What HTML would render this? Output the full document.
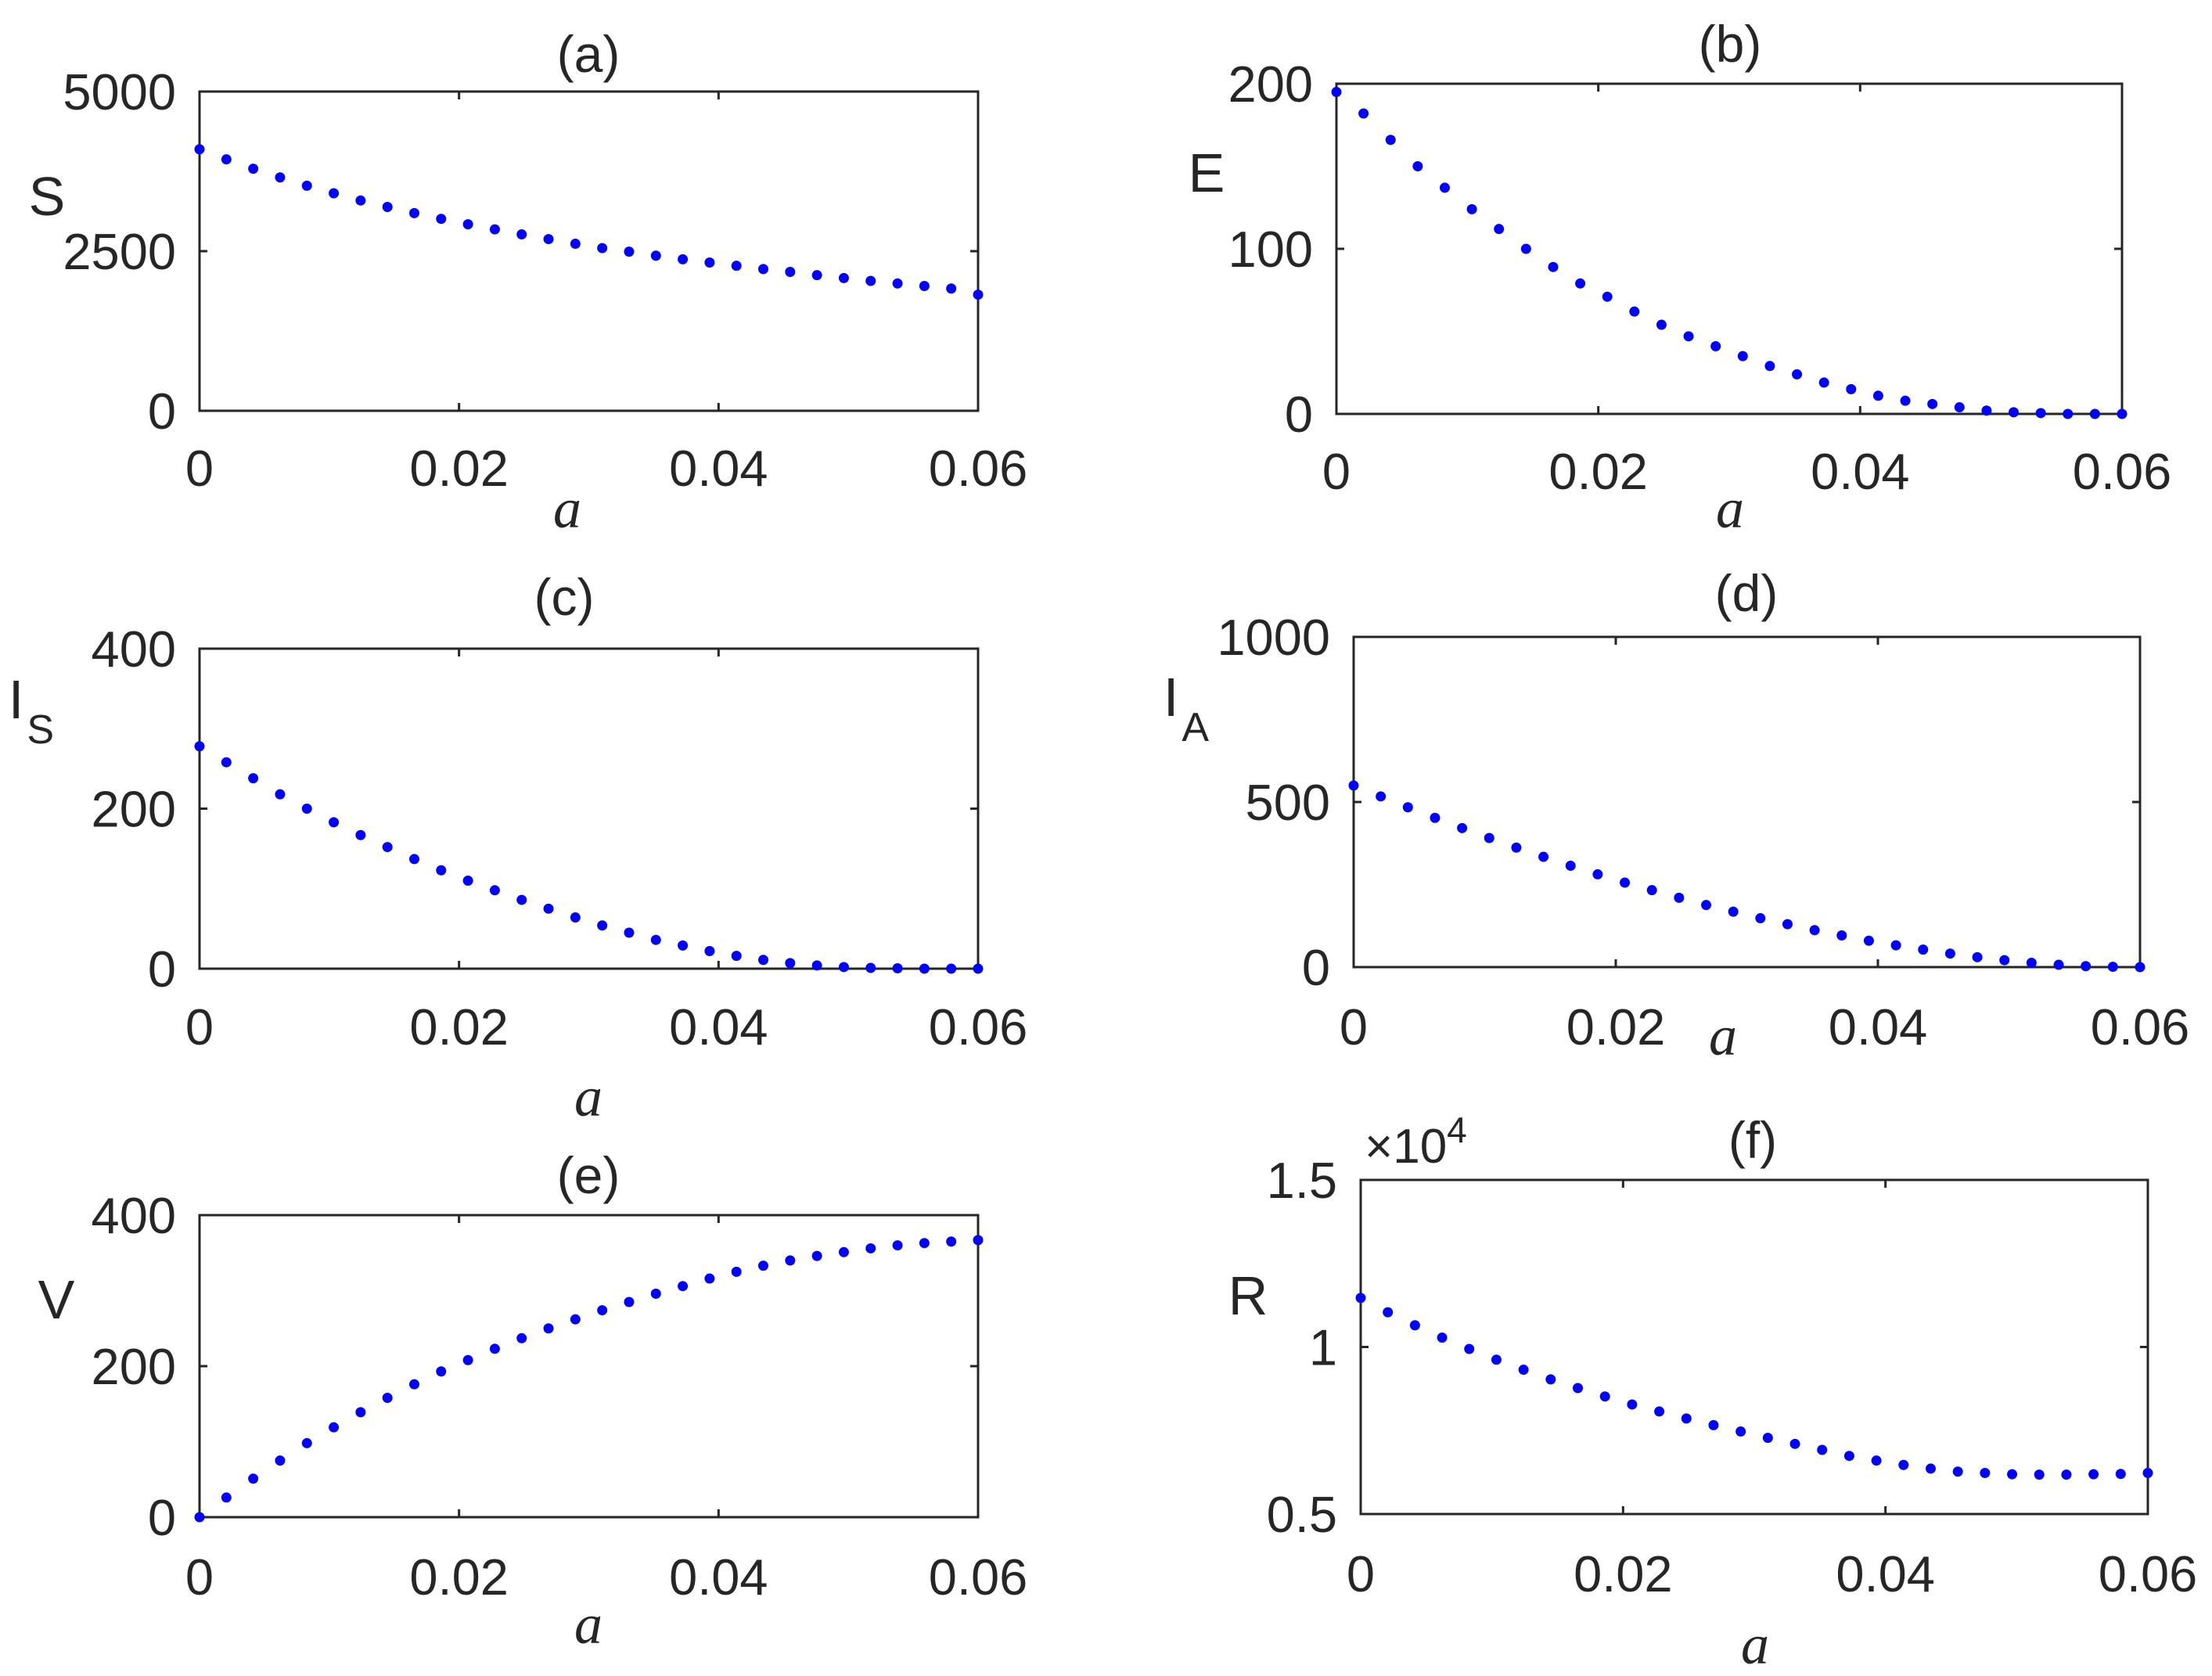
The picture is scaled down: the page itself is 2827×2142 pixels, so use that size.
<!DOCTYPE html>
<html><head><meta charset="utf-8"><style>
html,body{margin:0;padding:0;background:#fff;}
svg{display:block;}
text{font-family:"Liberation Sans",sans-serif;fill:#262626;}
.it{font-family:"Liberation Serif",serif;font-style:italic;}
</style></head><body>
<svg id="fig" width="2827" height="2142" viewBox="0 0 2827 2142" xmlns="http://www.w3.org/2000/svg"></svg>
<script>
const xTicks = [0, 0.02, 0.04, 0.06];
const xTickLabels = ['0', '0.02', '0.04', '0.06'];
const sValues = [4096,3938,3791,3655,3525,3407,3294,3192,3096,3006,2921,2842,2763,2689,2616,2548,2492,2429,2373,2322,2271,2220,2175,2124,2079,2034,1994,1955,1915,1819];
const eValues = [195,182,166,150,137,124,112,100,89,79,71,62,54,47,41,35,29,24,19,15,11,8,6,4,2,1,0.5,0,0,0];
const isValues = [278,258,238,218,200,183,167,152,137,123,110,98,86,75,64,54,45,36,29,22,16,11,7,4,2,1,0.5,0,0,0];
const iaValues = [550,517,484,452,421,391,362,334,307,281,256,233,210,188,168,148,130,112,96,80,66,53,41,30,21,13,7,3,1,0];
const vValues = [0,26,51,75,98,119,139,158,176,193,208,223,237,250,262,274,285,296,306,316,325,333,340,346,351,356,360,363,365,367];
const rValues = [1.147,1.104,1.065,1.028,0.994,0.962,0.932,0.903,0.877,0.852,0.828,0.807,0.786,0.766,0.747,0.728,0.710,0.692,0.674,0.660,0.647,0.636,0.627,0.623,0.619,0.618,0.618,0.619,0.620,0.623];
const aTicksY = [0, 2500, 5000];
const bTicksY = [0, 100, 200];
const cTicksY = [0, 200, 400];
const dTicksY = [0, 500, 1000];
const eTicksY = [0, 200, 400];
const fTicksY = [0.5, 1, 1.5];

const NS = 'http://www.w3.org/2000/svg';
const svg = document.getElementById('fig');
function mk(tag, attrs, parent) {
  const el = document.createElementNS(NS, tag);
  for (const k in attrs) el.setAttribute(k, attrs[k]);
  (parent || svg).appendChild(el);
  return el;
}
const panels = [
  {id:'a', box:[255,117,1250,525], data:sValues, yt:aTicksY, title:[752,69], yl:'S', ylp:[60,250], xtY:598, xl:[725,660]},
  {id:'b', box:[1708,107,2712,529], data:eValues, yt:bTicksY, title:[2211,56], yl:'E', ylp:[1542,220], xtY:602, xl:[2211,660]},
  {id:'c', box:[255,829,1250,1238], data:isValues, yt:cTicksY, title:[721,763], yl:'I', sub:'S', ylp:[40,893], xtY:1312, xl:[752,1412]},
  {id:'d', box:[1730,814,2735,1236], data:iaValues, yt:dTicksY, title:[2232,758], yl:'I', sub:'A', ylp:[1516,890], xtY:1312, xl:[2202,1334]},
  {id:'e', box:[255,1553,1250,1939], data:vValues, yt:eTicksY, title:[752,1502], yl:'V', ylp:[72,1660], xtY:2015, xl:[752,2086]},
  {id:'f', box:[1739,1508,2745,1935], data:rValues, yt:fTicksY, title:[2240,1457], yl:'R', ylp:[1595,1655], xtY:2011, xl:[2243,2112], exp:true}
];
panels.forEach(p => {
  const [x0,y0,x1,y1] = p.box;
  const g = mk('g', {});
  
  
  const ymin = p.yt[0], ymax = p.yt[p.yt.length-1];
  const xs = v => x0 + (v - 0) / 0.06 * (x1 - x0);
  const ys = v => y1 - (v - ymin) / (ymax - ymin) * (y1 - y0);
  xTicks.forEach((t, i) => {
    const X = xs(t);
    mk('line', {x1:X, y1:y1, x2:X, y2:y1-10, stroke:'#262626', 'stroke-width':3}, g);
    mk('line', {x1:X, y1:y0, x2:X, y2:y0+10, stroke:'#262626', 'stroke-width':3}, g);
    const tx = mk('text', {x:X, y:p.xtY + 23, 'font-size':65, 'text-anchor':'middle'}, g);
    tx.textContent = xTickLabels[i];
    
    
  });
  p.yt.forEach(t => {
    const Y = ys(t);
    mk('line', {x1:x0, y1:Y, x2:x0+10, y2:Y, stroke:'#262626', 'stroke-width':3}, g);
    mk('line', {x1:x1, y1:Y, x2:x1-10, y2:Y, stroke:'#262626', 'stroke-width':3}, g);
    const tx = mk('text', {x:x0 - 30, y:Y + 23, 'font-size':65, 'text-anchor':'end'}, g);
    tx.textContent = String(t);
    
    
  });
  const fr = mk('rect', {x:x0, y:y0, width:x1-x0, height:y1-y0, fill:'none', stroke:'#262626', 'stroke-width':3}, g);
  
  
  const n = p.data.length;
  p.data.forEach((v, i) => {
    const c = mk('circle', {cx:xs(0.06 * i / (n - 1)), cy:ys(v), r:6.5, fill:'#0000ff'}, g);
    
    
  });
  const tt = mk('text', {x:p.title[0], y:p.title[1] + 23, 'font-size':66, 'text-anchor':'middle', fill:'#000'}, g);
  tt.textContent = '(' + p.id + ')';
  
  
  const yl = mk('text', {x:p.ylp[0], y:p.ylp[1] + 25, 'font-size':70, 'text-anchor':'middle'}, g);
  yl.textContent = p.yl;
  if (p.sub) {
    const ts = document.createElementNS(NS, 'tspan');
    ts.setAttribute('font-size', 52);
    ts.setAttribute('dy', 32);
    ts.setAttribute('dx', 4);
    ts.textContent = p.sub;
    yl.appendChild(ts);
  }
  
  
  const xl = mk('text', {x:p.xl[0], y:p.xl[1] + 14, 'font-size':72, 'text-anchor':'middle', class:'it'}, g);
  xl.textContent = 'a';
  
  
  if (p.exp) {
    const ex = mk('text', {x:x0 + 5, y:y0 - 22, 'font-size':62}, g);
    ex.textContent = '×10';
    const sp = document.createElementNS(NS, 'tspan');
    sp.setAttribute('font-size', 46);
    sp.setAttribute('dy', -26);
    sp.textContent = '4';
    ex.appendChild(sp);
    
    
  }
});
</script>
</body></html>
